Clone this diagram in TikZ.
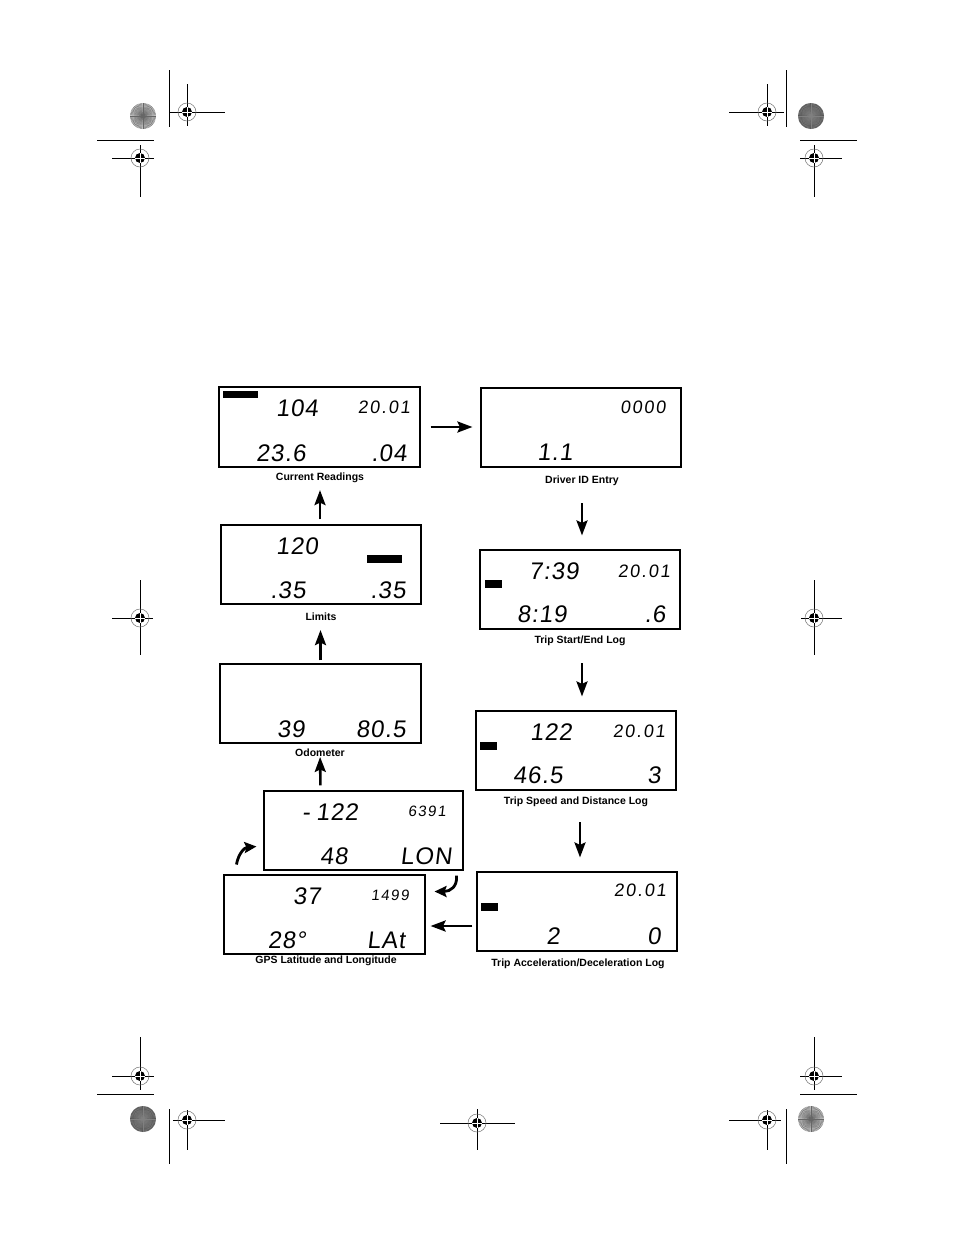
\documentclass[tikz,border=0pt]{standalone}
\usepackage{fontspec}
\setmainfont{Liberation Sans}
\newfontfamily\lcdfont{Liberation Sans}[FakeSlant=0.12,LetterSpace=4]
\newfontfamily\lcdwide{Liberation Sans}[FakeSlant=0.12,LetterSpace=10]
\usetikzlibrary{arrows.meta,calc}
\tikzset{
  lcd/.style={draw, line width=1.1pt, inner sep=0pt, minimum width=200pt, minimum height=79pt},
  big/.style={inner sep=0pt, font=\lcdfont\fontsize{24}{24}\selectfont},
  small/.style={inner sep=0pt, font=\lcdwide\fontsize{18}{18}\selectfont},
  tinyd/.style={inner sep=0pt, font=\lcdwide\fontsize{15}{15}\selectfont},
  lbl/.style={inner sep=0pt, font=\bfseries\fontsize{10.5}{12}\selectfont},
  bar/.style={fill=black, draw=none, inner sep=0pt},
  arr/.style={line width=2.6pt, -{Stealth[length=15pt,width=11pt,inset=2.5pt]}},
  carr/.style={line width=2.8pt, -{Stealth[length=12pt,width=11pt,inset=2pt]}},
  rline/.style={line width=0.9pt},
}
\newcommand\regmark[6]{%
  \draw[rline] (#1-#3,#2) -- (#1+#4,#2);
  \draw[rline] (#1,#2-#5) -- (#1,#2+#6);
  \draw[line width=0.5pt, black!55] (#1,#2) circle[radius=9];
  \fill (#1,#2) circle[radius=5];
  \draw[white, line width=0.6pt] (#1-5,#2) -- (#1+5,#2) (#1,#2-5) -- (#1,#2+5);
}
\newcommand\sunburst[4]{%
  \fill[#3] (#1,#2) circle[radius=13];
  \foreach \a in {0,6,...,354} \draw[#4, line width=0.3pt] (#1,#2) -- ++(\a:13);
}
\begin{document}
\begin{tikzpicture}[x=1pt,y=-1pt]
\useasboundingbox[fill=white] (0,0) rectangle (954,1235);

% ---------- registration marks ----------
\sunburst{143}{116}{black!25}{black!60}
\regmark{187}{112}{17}{38}{28}{14}
\draw[rline] (169,70) -- (169,127);
\draw[rline] (97,140) -- (154,140);
\regmark{140}{158}{28}{14}{13}{39}

\regmark{767}{112}{38}{17}{28}{14}
\draw[rline] (786,70) -- (786,127);
\sunburst{811}{116}{black!65}{black!50}
\draw[rline] (800,140) -- (857,140);
\regmark{814}{158}{14}{28}{13}{39}

\regmark{140}{618}{28}{13}{38}{37}
\regmark{814}{618}{13}{28}{38}{37}

\regmark{140}{1076}{28}{14}{39}{14}
\draw[rline] (97,1094) -- (154,1094);
\sunburst{143}{1119}{black!65}{black!50}
\draw[rline] (169,1109) -- (169,1164);
\regmark{187}{1120}{14}{38}{10}{30}

\regmark{477}{1123}{37}{38}{14}{27}

\regmark{814}{1076}{14}{28}{39}{14}
\draw[rline] (800,1094) -- (857,1094);
\sunburst{811}{1119}{black!25}{black!60}
\draw[rline] (786,1109) -- (786,1164);
\regmark{767}{1120}{38}{14}{10}{30}

% ---------- LCD boxes ----------
% A Current Readings
\node[lcd, minimum width=201pt, minimum height=80pt] (A) at (319.5,427) {};
\node[bar, minimum width=35pt, minimum height=7.5pt] (Abar) at (240.5,394.5) {};
\node[big] (A1) at (297,408) {104};
\node[small] (A2) at (384,407) {20.01};
\node[big] (A3) at (281,453) {23.6};
\node[big] (A4) at (389,453) {.04};
\node[lbl] (Alab) at (320,478) {Current Readings};

% B Driver ID Entry
\node[lcd] (B) at (581,427.5) {};
\node[small] (B1) at (643,407) {0000};
\node[big] (B2) at (555,452) {1.1};
\node[lbl] (Blab) at (582,481) {Driver ID Entry};

% C Trip Start/End Log
\node[lcd] (C) at (580,589.5) {};
\node[bar, minimum width=17pt, minimum height=7.5pt] (Cbar) at (493.5,584) {};
\node[big] (C1) at (554,571) {7:39};
\node[small] (C2) at (644,571) {20.01};
\node[big] (C3) at (542,614) {8:19};
\node[big] (C4) at (655,614) {.6};
\node[lbl] (Clab) at (580,641) {Trip Start/End Log};

% D Trip Speed and Distance Log
\node[lcd] (D) at (576,750.5) {};
\node[bar, minimum width=17pt, minimum height=7.5pt] (Dbar) at (488.5,746) {};
\node[big] (D1) at (551,732) {122};
\node[small] (D2) at (639,731) {20.01};
\node[big] (D3) at (538,775) {46.5};
\node[big] (D4) at (654,775) {3};
\node[lbl] (Dlab) at (576,802) {Trip Speed and Distance Log};

% E Trip Acceleration/Deceleration Log
\node[lcd] (E) at (577,911.5) {};
\node[bar, minimum width=17pt, minimum height=8pt] (Ebar) at (489.5,906.5) {};
\node[small] (E1) at (640,890) {20.01};
\node[big] (E2) at (553,936) {2};
\node[big] (E3) at (654,936) {0};
\node[lbl] (Elab) at (578,964) {Trip Acceleration/Deceleration Log};

% F GPS Latitude
\node[lcd, minimum width=201pt] (F) at (324.5,914.5) {};
\node[big] (F1) at (307,896) {37};
\node[tinyd] (F2) at (390,895) {1499};
\node[big] (F3) at (287,940) {28°};
\node[big] (F4) at (386,940) {LAt};
\node[lbl] (Flab) at (326,961) {GPS Latitude and Longitude};

% G GPS Longitude
\node[lcd, minimum width=199pt] (G) at (363.5,830.5) {};
\node[big] (G1) at (330,812) {-\hspace{6pt}122};
\node[tinyd] (G2) at (427,811) {6391};
\node[big] (G3) at (334,856) {48};
\node[big] (G4) at (426,856) {LON};

% H Odometer
\node[lcd, minimum width=201pt] (H) at (320.5,703.5) {};
\node[big] (H1) at (291,729) {39};
\node[big] (H2) at (381,729) {80.5};
\node[lbl] (Hlab) at (320,753) {Odometer};

% I Limits
\node[lcd] (I) at (321,564.5) {};
\node[big] (I1) at (297,546) {120};
\node[bar, minimum width=35pt, minimum height=8pt] (Ibar) at (384.5,559) {};
\node[big] (I2) at (288,590) {.35};
\node[big] (I3) at (388,590) {.35};
\node[lbl] (Ilab) at (321,617) {Limits};

% ---------- connectors ----------
\draw[arr, shorten <=10pt, shorten >=8pt] (A.east) -- (A.east -| B.west);
\draw[arr, shorten <=17pt, shorten >=14pt] (Blab.south) -- (Blab.south |- C.north);
\draw[arr, shorten <=17pt, shorten >=14pt] ([xshift=2pt]Clab.south) -- ([xshift=2pt]Clab.south |- D.north);
\draw[arr, shorten <=15pt, shorten >=14pt] ([xshift=4pt]Dlab.south) -- ([xshift=4pt]Dlab.south |- E.north);
\path ([yshift=-14.5pt]E.west) coordinate (ef);
\draw[arr, shorten <=4pt, shorten >=5pt] (ef) -- (ef -| F.east);
\draw[arr, shorten <=5pt, shorten >=8pt] (H.south |- G.north) -- (Hlab.north);
\draw[arr, shorten <=3pt, shorten >=9pt] (H.north) -- (H.north |- Ilab.south);
\draw[arr, shorten <=5pt, shorten >=7pt] (Alab.south |- I.north) -- (Alab.south);

% curved arrows between GPS screens
\draw[carr]
  ($(G.west)+(-27,34)$) .. controls ($(G.west)+(-25,23)$) and ($(G.west)+(-19,17)$) .. ($(G.west)+(-7,16)$);
\draw[carr]
  ($(F.east)+(31,-39)$) .. controls ($(F.east)+(32,-28)$) and ($(F.east)+(25,-23)$) .. ($(F.east)+(9,-23)$);
\end{tikzpicture}
\end{document}
